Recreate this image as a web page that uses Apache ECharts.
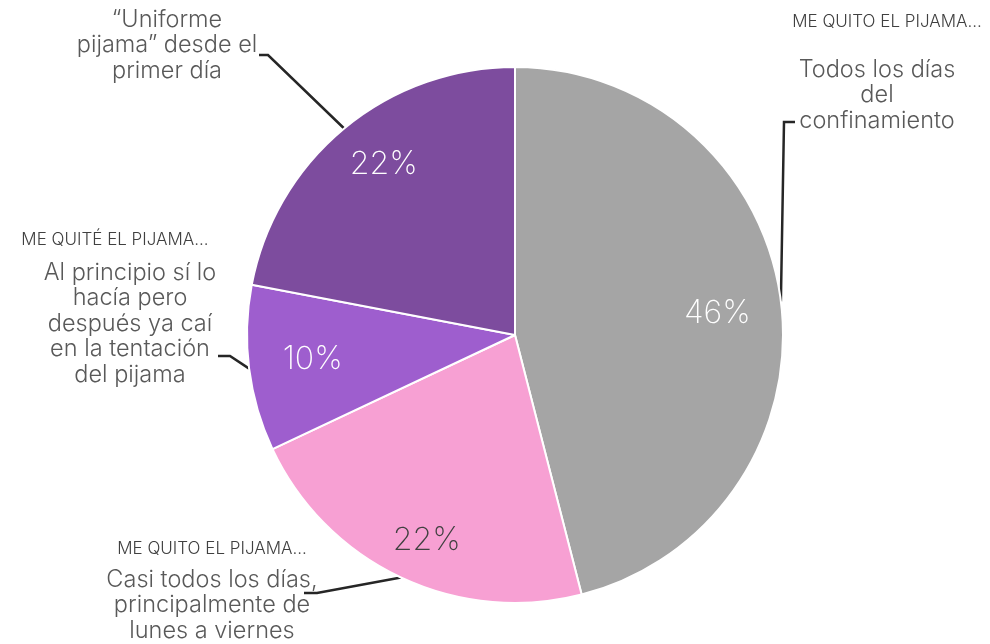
<!DOCTYPE html>
<html>
<head>
<meta charset="utf-8">
<script src="https://cdn.jsdelivr.net/npm/echarts@6/dist/echarts.min.js"></script>
<style>
  html, body { margin: 0; padding: 0; background: #fff; }
  #chart { width: 990px; height: 644px; }
</style>
</head>
<body>
<div id="chart"></div>
<script>
// data
const headers = ['ME QUITO EL PIJAMA...', 'ME QUITO EL PIJAMA...', 'ME QUITÉ EL PIJAMA...', '']
const answers = [
  'Todos los días\ndel\nconfinamiento',
  'Casi todos los días,\nprincipalmente de\nlunes a viernes',
  'Al principio sí lo\nhacía pero\ndespués ya caí\nen la tentación\ndel pijama',
  '“Uniforme\npijama” desde el\nprimer día'
]
const shares = [46, 22, 10, 22]
const colors = ['#A5A5A5', '#F7A0D3', '#9E5ECE', '#7D4C9E']
const pctColors = ['#ffffff', '#404040', '#ffffff', '#ffffff']

// label placement (pixels): anchor x/top, header style, leader bend + end
const place = [
  { x: 877, y: -13, h: 'h1', bend: [784, 122], end: [795, 122] },
  { x: 212, y: 531, h: 'h2', bend: [317, 593], end: [304, 593] },
  { x: 130, y: 220, h: 'h3', bend: [230, 356], end: [218, 356] },
  { x: 167, y: 7, h: null, bend: [268, 55], end: [259, 55] }
]
const pctNudge = [[-8, 5], [2, 14], [8, -2], [4, -7]]

const font = 'Inter, "Noto Sans", sans-serif'
const R = 268

const chart = echarts.init(document.getElementById('chart'))
chart.setOption({
  animation: false,
  series: [
    {
      type: 'pie',
      center: [515, 335],
      radius: [0, R],
      startAngle: 90,
      clockwise: true,
      avoidLabelOverlap: false,
      silent: true,
      itemStyle: { borderColor: '#fff', borderWidth: 2 },
      data: shares.map((v, i) => ({
        value: v,
        name: answers[i],
        itemStyle: { color: colors[i] }
      })),
      label: {
        show: true,
        position: 'outside',
        fontFamily: font,
        formatter: p => {
          const h = headers[p.dataIndex]
          const body = answers[p.dataIndex].split('\n').map(s => '{m|' + s + '}').join('\n')
          return h ? '{' + place[p.dataIndex].h + '|' + h + '}\n' + body : body
        },
        rich: {
          m: { fontFamily: font, fontWeight: 300, fontSize: 23.5, lineHeight: 25.5, color: '#595959', align: 'center' },
          h1: { fontFamily: font, fontWeight: 300, fontSize: 17, lineHeight: 70, color: '#404040', align: 'center', padding: [0, 0, 0, 20] },
          h2: { fontFamily: font, fontWeight: 300, fontSize: 17, lineHeight: 36, color: '#404040', align: 'center' },
          h3: { fontFamily: font, fontWeight: 300, fontSize: 17, lineHeight: 40, color: '#404040', align: 'center', padding: [0, 30, 0, 0] }
        }
      },
      labelLine: {
        show: true,
        smooth: false,
        lineStyle: { color: '#262626', width: 2.5 }
      },
      labelLayout: params => {
        const p = place[params.dataIndex]
        const start = params.labelLinePoints ? params.labelLinePoints[0] : p.bend
        return {
          x: p.x,
          y: p.y,
          align: 'center',
          verticalAlign: 'top',
          labelLinePoints: [start, p.bend, p.end]
        }
      }
    },
    {
      type: 'pie',
      center: [515, 335],
      radius: [150, R],
      startAngle: 90,
      clockwise: true,
      silent: true,
      itemStyle: { color: 'rgba(0,0,0,0)' },
      data: shares.map((v, i) => ({
        value: v,
        name: 'p' + i,
        label: { color: pctColors[i] }
      })),
      label: {
        show: true,
        position: 'inside',
        formatter: '{c}%',
        fontFamily: font,
        fontWeight: 200,
        fontSize: 32
      },
      labelLine: { show: false },
      labelLayout: params => ({
        dx: pctNudge[params.dataIndex][0],
        dy: pctNudge[params.dataIndex][1]
      })
    }
  ]
})
</script>
</body>
</html>
